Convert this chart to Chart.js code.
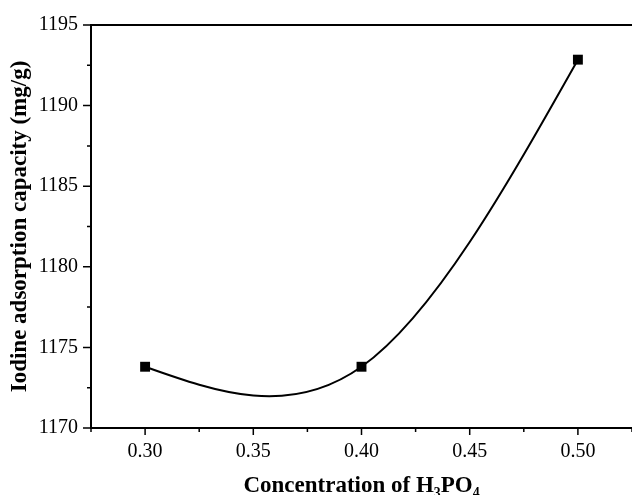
<!DOCTYPE html>
<html>
<head>
<meta charset="utf-8">
<script src="https://cdn.jsdelivr.net/npm/chart.js@4.4.0/dist/chart.umd.min.js"></script>
<style>
  html, body { margin: 0; padding: 0; background: #fff; }
</style>
</head>
<body>
<canvas id="chart" width="632" height="495"></canvas>
<script>
const concentration = [0.30, 0.40, 0.50];
const iodineValue = [1173.8, 1173.8, 1192.85];
const xTicks = [0.30, 0.35, 0.40, 0.45, 0.50];
const yTicks = [1170, 1175, 1180, 1185, 1190, 1195];

const serif = "'Liberation Serif', 'Times New Roman', serif";

// second derivatives of a natural cubic spline through the points
function splineSecondDerivs(xs, ys) {
  const n = xs.length;
  const m = new Array(n).fill(0);
  if (n < 3) return m;
  const a = [], b = [], c = [], d = [];
  for (let i = 1; i < n - 1; i++) {
    const h0 = xs[i] - xs[i - 1], h1 = xs[i + 1] - xs[i];
    a.push(h0); b.push(2 * (h0 + h1)); c.push(h1);
    d.push(6 * ((ys[i + 1] - ys[i]) / h1 - (ys[i] - ys[i - 1]) / h0));
  }
  const k = b.length;
  for (let i = 1; i < k; i++) {
    const w = a[i] / b[i - 1];
    b[i] -= w * c[i - 1];
    d[i] -= w * d[i - 1];
  }
  m[k] = d[k - 1] / b[k - 1];
  for (let i = k - 2; i >= 0; i--) m[i + 1] = (d[i] - c[i] * m[i + 2]) / b[i];
  return m;
}

// draws the spline curve under the markers, as bezier pieces through the scales
const splinePlugin = {
  id: 'spline',
  beforeDatasetsDraw(chart) {
    const { ctx, chartArea, scales: { x, y } } = chart;
    const m = splineSecondDerivs(concentration, iodineValue);
    ctx.save();
    ctx.beginPath();
    ctx.rect(chartArea.left, chartArea.top, chartArea.width, chartArea.height);
    ctx.clip();
    ctx.beginPath();
    ctx.moveTo(x.getPixelForValue(concentration[0]), y.getPixelForValue(iodineValue[0]));
    for (let i = 0; i < concentration.length - 1; i++) {
      const x0 = concentration[i], x1 = concentration[i + 1];
      const y0 = iodineValue[i], y1 = iodineValue[i + 1];
      const h = x1 - x0;
      const s = (y1 - y0) / h;
      const d0 = s - h * (2 * m[i] + m[i + 1]) / 6;
      const d1 = s + h * (m[i] + 2 * m[i + 1]) / 6;
      ctx.bezierCurveTo(
        x.getPixelForValue(x0 + h / 3), y.getPixelForValue(y0 + d0 * h / 3),
        x.getPixelForValue(x1 - h / 3), y.getPixelForValue(y1 - d1 * h / 3),
        x.getPixelForValue(x1), y.getPixelForValue(y1));
    }
    ctx.lineWidth = 2;
    ctx.strokeStyle = '#000';
    ctx.stroke();
    ctx.restore();
  }
};

// outward major/minor ticks and the top frame line
const framePlugin = {
  id: 'frame',
  afterDraw(chart) {
    const { ctx, chartArea: a, scales: { x, y } } = chart;
    ctx.save();
    ctx.strokeStyle = '#000';
    ctx.beginPath();
    ctx.lineWidth = 2;
    ctx.moveTo(a.left - 1, a.top);
    ctx.lineTo(a.right, a.top);
    ctx.stroke();

    ctx.lineWidth = 1.5;
    ctx.beginPath();
    const xStep = xTicks[1] - xTicks[0];
    xTicks.forEach(v => {
      const px = x.getPixelForValue(v);
      ctx.moveTo(px, a.bottom); ctx.lineTo(px, a.bottom + 7);
    });
    for (let v = xTicks[0] - xStep / 2; v <= x.max + 1e-9; v += xStep) {
      const px = x.getPixelForValue(v);
      ctx.moveTo(px, a.bottom); ctx.lineTo(px, a.bottom + 4);
    }
    const yStep = yTicks[1] - yTicks[0];
    yTicks.forEach(v => {
      const py = y.getPixelForValue(v);
      ctx.moveTo(a.left, py); ctx.lineTo(a.left - 8, py);
    });
    for (let v = yTicks[0] + yStep / 2; v < y.max; v += yStep) {
      const py = y.getPixelForValue(v);
      ctx.moveTo(a.left, py); ctx.lineTo(a.left - 4, py);
    }
    ctx.stroke();
    ctx.restore();
  }
};

new Chart(document.getElementById('chart'), {
  type: 'scatter',
  data: {
    datasets: [{
      label: 'Iodine adsorption capacity',
      data: concentration.map((c, i) => ({ x: c, y: iodineValue[i] })),
      showLine: false,
      pointStyle: 'rect',
      pointRadius: 7,
      pointHoverRadius: 7,
      pointBorderWidth: 0,
      backgroundColor: '#000',
      borderColor: '#000'
    }]
  },
  options: {
    responsive: false,
    devicePixelRatio: 1,
    animation: false,
    layout: { autoPadding: false, padding: { top: 24, right: 0, bottom: 0, left: 0 } },
    plugins: {
      legend: { display: false },
      tooltip: { enabled: false }
    },
    scales: {
      x: {
        type: 'linear',
        min: 0.275,
        max: 0.525,
        afterBuildTicks: s => { s.ticks = xTicks.map(v => ({ value: v })); },
        afterFit: s => { s.height = 67; s.paddingRight = 0; s.paddingLeft = 0; },
        ticks: {
          callback: v => v.toFixed(2),
          font: { family: serif, size: 20 },
          color: '#000',
          padding: 12,
          maxRotation: 0,
          autoSkip: false
        },
        grid: { display: false, drawTicks: false },
        border: { display: true, color: '#000', width: 2 },
        title: {
          display: true,
          text: 'Concentration of H\u2083PO\u2084',
          font: { family: serif, size: 23, weight: 'bold', lineHeight: 0.8 },
          color: '#000',
          padding: { top: 0, bottom: 0 }
        }
      },
      y: {
        type: 'linear',
        min: 1170,
        max: 1195,
        afterBuildTicks: s => { s.ticks = yTicks.map(v => ({ value: v })); },
        afterFit: s => { s.width = 91; },
        ticks: {
          callback: v => String(v),
          font: { family: serif, size: 20 },
          color: '#000',
          padding: 13
        },
        grid: { display: false, drawTicks: false },
        border: { display: true, color: '#000', width: 2 },
        title: {
          display: true,
          text: 'Iodine adsorption capacity (mg/g)',
          font: { family: serif, size: 23, weight: 'bold', lineHeight: 1 },
          color: '#000',
          padding: { top: 9, bottom: 0 }
        }
      }
    }
  },
  plugins: [splinePlugin, framePlugin]
});
</script>
</body>
</html>
